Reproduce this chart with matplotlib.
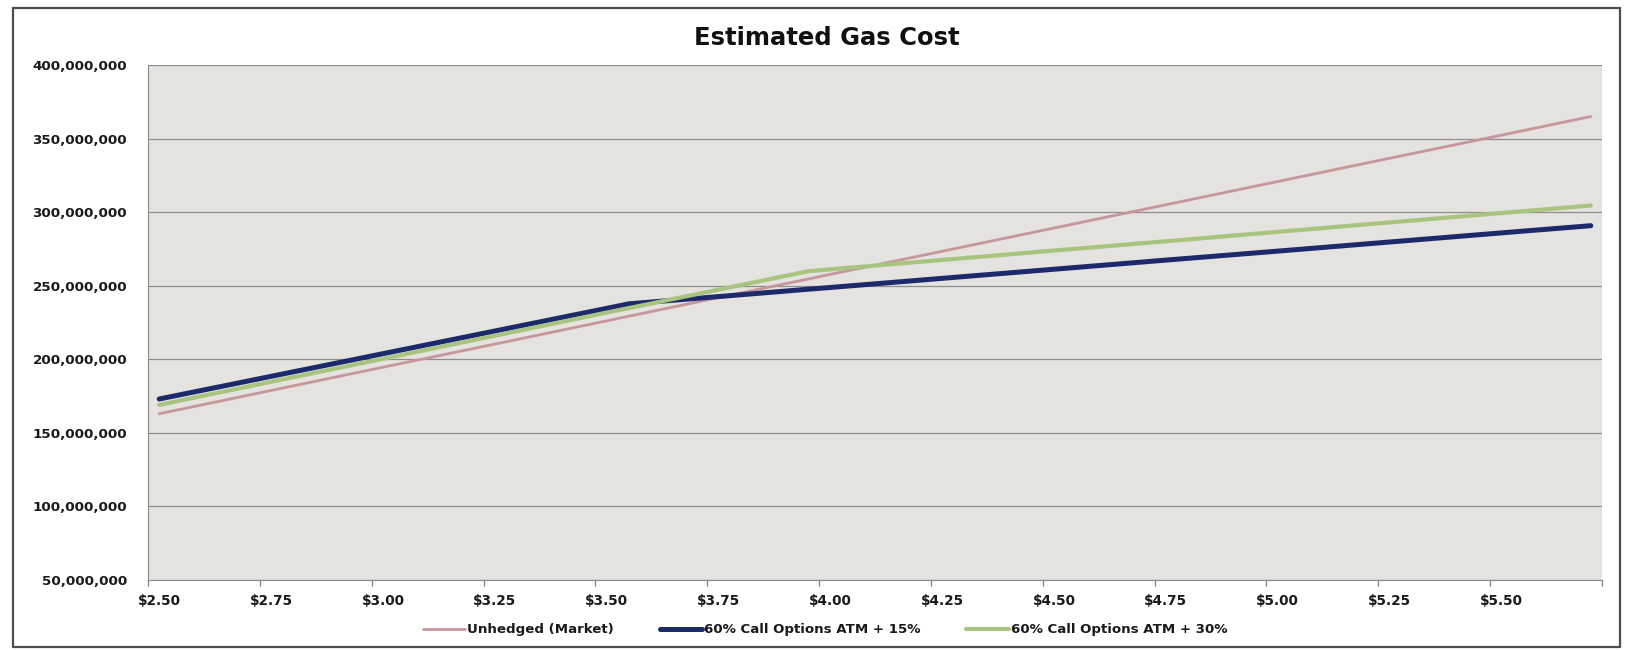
import matplotlib
matplotlib.use("Agg")
import matplotlib.pyplot as plt
from matplotlib.ticker import FuncFormatter, FixedLocator
from matplotlib.patches import Rectangle

# ---- data ----
prices = [2.50, 2.75, 3.00, 3.25, 3.50, 3.55, 3.75, 3.95, 4.00, 4.25,
          4.50, 4.75, 5.00, 5.25, 5.50, 5.70]
unhedged = [163.0, 178.8, 194.6, 210.3, 226.1, 229.3, 241.9, 254.5, 257.7, 273.4,
            289.2, 305.0, 320.8, 336.6, 352.3, 365.0]
call_15 = [173.0, 188.4, 203.8, 219.2, 234.6, 237.7, 242.6, 247.6, 248.8, 255.0,
           261.2, 267.4, 273.5, 279.7, 285.9, 290.8]
call_30 = [169.0, 184.7, 200.3, 216.0, 231.7, 234.8, 247.3, 259.8, 261.1, 267.5,
           273.9, 280.2, 286.6, 293.0, 299.4, 304.5]
series_names = ["Unhedged (Market)", "60% Call Options ATM + 15%",
                "60% Call Options ATM + 30%"]
x_labels = [2.50, 2.75, 3.00, 3.25, 3.50, 3.75, 4.00, 4.25, 4.50, 4.75,
            5.00, 5.25, 5.50]
y_ticks = [50, 100, 150, 200, 250, 300, 350, 400]  # millions
title = "Estimated Gas Cost"

plt.rcParams['font.family'] = ['DejaVu Sans']

W, H = 1627, 650
fig = plt.figure(figsize=(W / 100, H / 100), dpi=100)
fig.patch.set_facecolor('white')

# outer chart frame
fig.patches.append(Rectangle((13 / W, 1 - 647 / H), (1620 - 13) / W, (647 - 8) / H,
                             transform=fig.transFigure, fill=False,
                             edgecolor='#4d4d4d', lw=1.6))

ax = fig.add_axes([148 / W, 1 - 580 / H, (1602 - 148) / W, (580 - 65) / H])
ax.set_facecolor('#e4e3df')

M = 1e6
ax.plot(prices, [v * M for v in unhedged], color='#c7969b', lw=2.0,
        label=series_names[0], solid_capstyle='round')
ax.plot(prices, [v * M for v in call_15], color='#1c2a6b', lw=3.6,
        label=series_names[1], solid_capstyle='round')
ax.plot(prices, [v * M for v in call_30], color='#a9c47f', lw=3.0,
        label=series_names[2], solid_capstyle='round')

ax.set_xlim(2.475, 5.725)
ax.set_ylim(50 * M, 400 * M)

ax.yaxis.set_major_locator(FixedLocator([v * M for v in y_ticks]))
ax.yaxis.set_major_formatter(FuncFormatter(lambda v, p: f"{int(round(v)):,}"))
ax.grid(axis='y', color='#8e8e8e', lw=0.9)
ax.set_axisbelow(True)

ax.xaxis.set_major_locator(FixedLocator(x_labels))
ax.xaxis.set_major_formatter(FuncFormatter(lambda v, p: f"${v:.2f}"))
ax.xaxis.set_minor_locator(FixedLocator([2.475 + 0.25 * k for k in range(14)]))
ax.tick_params(axis='x', which='major', length=0, pad=10, labelsize=9.8)
ax.tick_params(axis='x', which='minor', length=4, color='#888888', width=1)
ax.tick_params(axis='y', which='major', length=0, pad=15, labelsize=9.7)
for lab in ax.get_xticklabels() + ax.get_yticklabels():
    lab.set_fontweight('bold')
    lab.set_color('#1a1a1a')

for s in ['top', 'right']:
    ax.spines[s].set_visible(False)
ax.spines['left'].set_color('#8a8a8a')
ax.spines['bottom'].set_color('#8a8a8a')

fig.text(827 / W, 1 - 38 / H, title, ha='center', va='center',
         fontsize=17.5, fontweight='bold', color='#111111')

leg = fig.legend(loc='center', bbox_to_anchor=(825 / W, 1 - 630 / H), ncol=3,
                 frameon=False, handlelength=3.2, handletextpad=0.15,
                 columnspacing=3.4, borderpad=0.2,
                 prop={'weight': 'bold', 'size': 9.6})
for t in leg.get_texts():
    t.set_color('#1a1a1a')

fig.savefig('out.png', dpi=100, facecolor='white')
